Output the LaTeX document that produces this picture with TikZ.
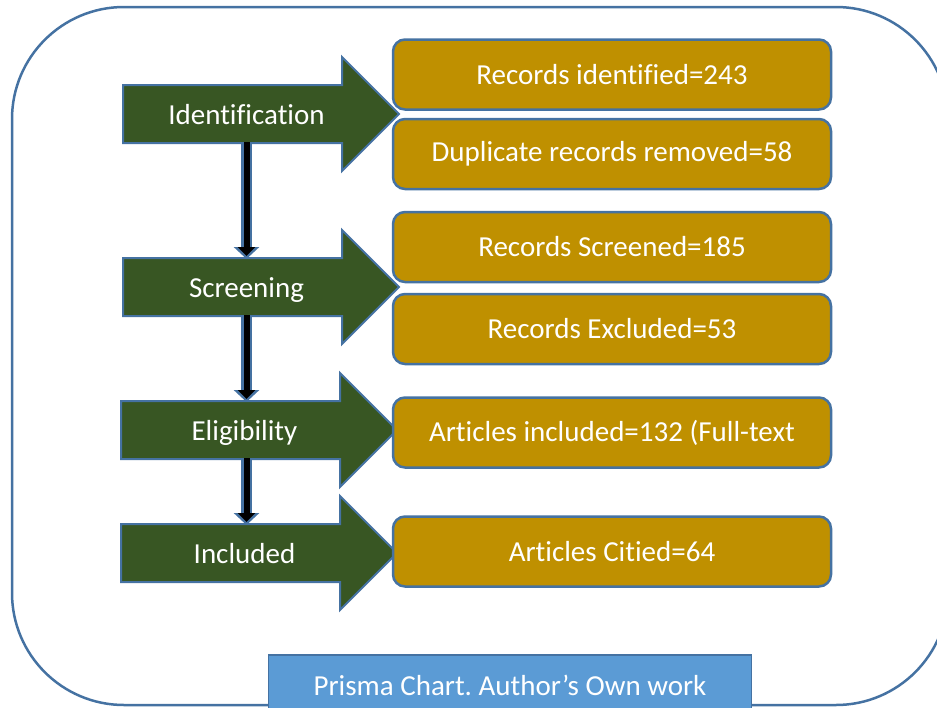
\documentclass[tikz,border=0pt]{standalone}
\usepackage{fontspec}
\setmainfont{Carlito}[Ligatures=NoCommon]
\usetikzlibrary{arrows.meta,shapes.arrows}
\definecolor{stagegreen}{RGB}{56,86,35}
\definecolor{boxgold}{RGB}{191,144,0}
\definecolor{edgeblue}{RGB}{69,114,162}
\definecolor{capblue}{RGB}{91,155,213}
\frenchspacing

\begin{document}
\begin{tikzpicture}[
  x=1pt, y=-1pt,
  every node/.style={font=\fontsize{29}{34}\selectfont, text=white},
  stage/.style={single arrow, draw=edgeblue, fill=stagegreen, line width=2pt,
    minimum height=276pt, single arrow head extend=28pt,
    text height=23pt, text depth=3pt, inner xsep=0pt, inner ysep=15pt, anchor=tail},
  rec/.style={rectangle, rounded corners=12pt, draw=edgeblue, fill=boxgold,
    line width=2.5pt, minimum width=438pt, minimum height=70pt},
  vconn/.style={draw=black, line width=6pt, -{Triangle[length=9pt,width=17pt]},
    shorten <=28pt, shorten >=31pt,
    preaction={draw=edgeblue, line width=11pt, -{Triangle[length=12pt,width=25pt]}, shorten >=28pt}}
]
\useasboundingbox (0,0) rectangle (937,707);
\clip (0,0) rectangle (937,707);

% frame
\draw[edgeblue, line width=2.5pt, rounded corners=112pt] (12,7) rectangle (948,705);

% stages
\node[stage] (ident) at (122,114) {Identification};
\node[stage] (screen) at (122,287) {Screening};
\node[stage] (elig) at (120,430) {Eligibility};
\node[stage] (incl) at (120,553) {Included};

% boxes
\node[rec] (idRec) at (612,74.5) {Records identified=243};
\node[rec] (dupRem) at (612,154) {Duplicate records removed=58};
\node[rec] (scrRec) at (612,247) {Records Screened=185};
\node[rec] (exclRec) at (612,329) {Records Excluded=53};
\node[rec] (artIncl) at (612,432.5) {Articles included=132 (Full-text};
\node[rec] (artCit) at (612,551.5) {Articles Citied=64};

% caption
\node[draw=edgeblue, fill=capblue, line width=1.5pt, minimum width=483pt, minimum height=62pt, anchor=north] (caption) at (510,654) {};
\node (captxt) at (510,685) {Prisma Chart. Author’s Own work};

% vertical connectors
\draw[vconn] (ident.center) -- (ident.center |- screen.center);
\draw[vconn] (ident.center |- screen.center) -- (ident.center |- elig.center);
\draw[vconn] (ident.center |- elig.center) -- (ident.center |- incl.center);

\end{tikzpicture}
\end{document}
